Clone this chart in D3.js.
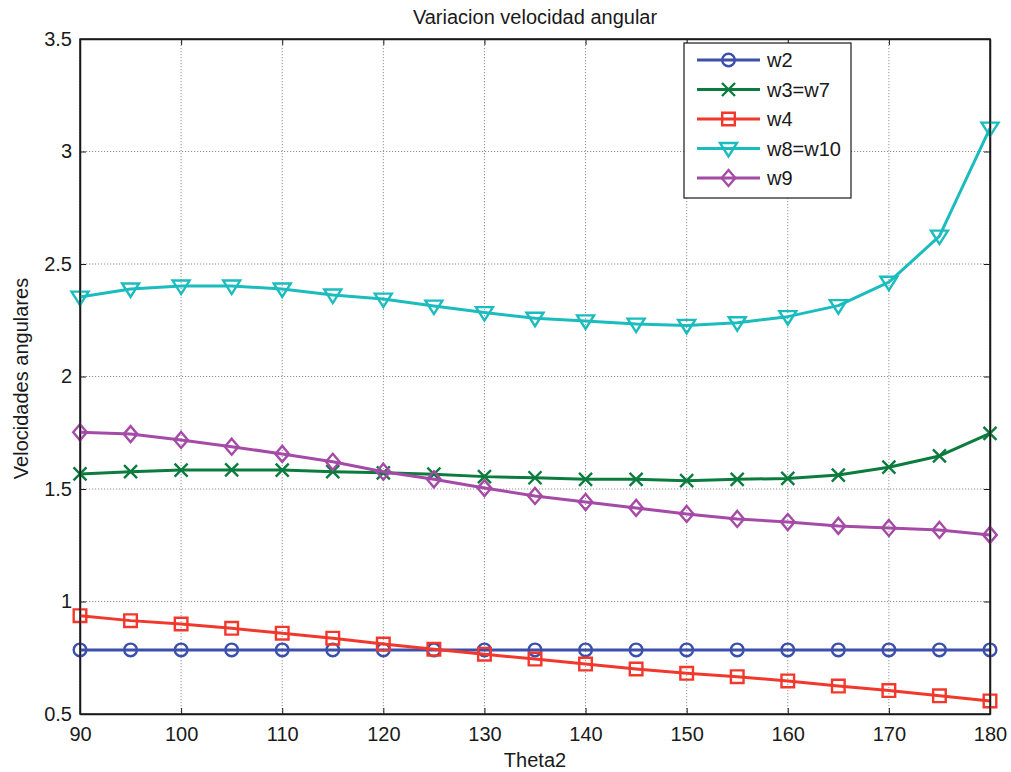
<!DOCTYPE html>
<html>
<head>
<meta charset="utf-8">
<script src="https://cdn.jsdelivr.net/npm/d3@7"></script>
<style>
  html, body { margin: 0; padding: 0; background: #fff; }
  svg { display: block; }
  text { font-family: Arial, "Liberation Sans", sans-serif; fill: #1a1a1a; }
</style>
</head>
<body>
<svg id="chart" width="1011" height="772"></svg>
<script>
// ---- data ----
const theta = [90, 95, 100, 105, 110, 115, 120, 125, 130, 135, 140, 145, 150, 155, 160, 165, 170, 175, 180];
const w2  = [0.785, 0.785, 0.785, 0.785, 0.785, 0.785, 0.785, 0.785, 0.785, 0.785, 0.785, 0.785, 0.785, 0.785, 0.785, 0.785, 0.785, 0.785, 0.785];
const w3  = [1.567, 1.577, 1.584, 1.585, 1.584, 1.577, 1.572, 1.566, 1.555, 1.550, 1.543, 1.543, 1.537, 1.543, 1.547, 1.562, 1.597, 1.647, 1.747];
const w4  = [0.937, 0.915, 0.900, 0.881, 0.859, 0.837, 0.811, 0.788, 0.766, 0.744, 0.722, 0.700, 0.681, 0.666, 0.647, 0.624, 0.604, 0.581, 0.558];
const w8  = [2.353, 2.389, 2.402, 2.402, 2.389, 2.362, 2.344, 2.313, 2.284, 2.259, 2.247, 2.233, 2.227, 2.239, 2.266, 2.315, 2.419, 2.624, 3.104];
const w9  = [1.752, 1.744, 1.718, 1.688, 1.656, 1.621, 1.577, 1.543, 1.504, 1.469, 1.442, 1.416, 1.389, 1.367, 1.353, 1.336, 1.327, 1.318, 1.296];
const seriesNames = ["w2", "w3=w7", "w4", "w8=w10", "w9"];
const xTicks = [90, 100, 110, 120, 130, 140, 150, 160, 170, 180];
const yTicks = [0.5, 1, 1.5, 2, 2.5, 3, 3.5];
const titleText = "Variacion velocidad angular";
const xLabelText = "Theta2";
const yLabelText = "Velocidades angulares";

// ---- styles ----
const seriesData = [w2, w3, w4, w8, w9];
const colors = ["#3b4fab", "#0b7c3e", "#f2382c", "#1bbcbe", "#a54aa6"];
const markers = ["circle", "x", "square", "triangleDown", "diamond"];

const svg = d3.select("#chart");
const L = 80, R = 990, T = 39, B = 714;
const x = d3.scaleLinear().domain([90, 180]).range([L, R]);
const y = d3.scaleLinear().domain([0.5, 3.5]).range([B, T]);
const FS = 20;

// grid
const grid = svg.append("g").attr("stroke", "#858585").attr("stroke-width", 0.9).attr("stroke-dasharray", "1.2,1.8");
xTicks.forEach(t => grid.append("line").attr("x1", x(t)).attr("x2", x(t)).attr("y1", T).attr("y2", B));
yTicks.forEach(t => grid.append("line").attr("x1", L).attr("x2", R).attr("y1", y(t)).attr("y2", y(t)));

// axes (ticks inward on all four sides)
const tickLen = 6;
const fmt = d => String(d);
const axB = svg.append("g").attr("transform", `translate(0,${B})`)
  .call(d3.axisBottom(x).tickValues(xTicks).tickFormat(fmt).tickSizeInner(-tickLen).tickSizeOuter(0).tickPadding(13));
const axT = svg.append("g").attr("transform", `translate(0,${T})`)
  .call(d3.axisTop(x).tickValues(xTicks).tickFormat("").tickSizeInner(-tickLen).tickSizeOuter(0));
const axL = svg.append("g").attr("transform", `translate(${L},0)`)
  .call(d3.axisLeft(y).tickValues(yTicks).tickFormat(fmt).tickSizeInner(-tickLen).tickSizeOuter(0).tickPadding(8));
const axR = svg.append("g").attr("transform", `translate(${R},0)`)
  .call(d3.axisRight(y).tickValues(yTicks).tickFormat("").tickSizeInner(-tickLen).tickSizeOuter(0));
[axB, axT, axL, axR].forEach(a => {
  a.select(".domain").attr("stroke", "#1a1a1a").attr("stroke-width", 1.5);
  a.selectAll(".tick line").attr("stroke", "#1a1a1a").attr("stroke-width", 1);
  a.selectAll("text").attr("font-size", FS).attr("font-family", "Arial, 'Liberation Sans', sans-serif").attr("fill", "#1a1a1a");
});

// marker paths
function markerPath(type) {
  const p = d3.path();
  if (type === "circle") { p.moveTo(6.3, 0); p.arc(0, 0, 6.3, 0, 2 * Math.PI); p.closePath(); }
  else if (type === "square") { p.rect(-6.3, -6.3, 12.6, 12.6); }
  else if (type === "x") { p.moveTo(-6.5, -6.5); p.lineTo(6.5, 6.5); p.moveTo(-6.5, 6.5); p.lineTo(6.5, -6.5); }
  else if (type === "triangleDown") { p.moveTo(-8.5, -5.5); p.lineTo(8.5, -5.5); p.lineTo(0, 8); p.closePath(); }
  else if (type === "diamond") { p.moveTo(0, -8); p.lineTo(6.8, 0); p.lineTo(0, 8); p.lineTo(-6.8, 0); p.closePath(); }
  return p.toString();
}

// series
const line = d3.line().x(d => x(d[0])).y(d => y(d[1]));
const plot = svg.append("g");
seriesData.forEach((vals, i) => {
  const pts = theta.map((t, j) => [t, vals[j]]);
  plot.append("path").datum(pts).attr("d", line)
    .attr("fill", "none").attr("stroke", colors[i]).attr("stroke-width", 3).attr("stroke-linejoin", "round");
  plot.selectAll(null).data(pts).enter().append("path")
    .attr("transform", d => `translate(${x(d[0])},${y(d[1])})`)
    .attr("d", markerPath(markers[i]))
    .attr("fill", "none").attr("stroke", colors[i]).attr("stroke-width", 2.4);
});

// redraw frame on top
svg.append("rect").attr("x", L).attr("y", T).attr("width", R - L).attr("height", B - T)
  .attr("fill", "none").attr("stroke", "#1a1a1a").attr("stroke-width", 1.5);

// legend
const lg = svg.append("g");
lg.append("rect").attr("x", 684).attr("y", 43).attr("width", 167).attr("height", 155)
  .attr("fill", "#fff").attr("stroke", "#1a1a1a").attr("stroke-width", 1.2);
seriesNames.forEach((name, i) => {
  const yy = 60 + i * 29.5;
  lg.append("line").attr("x1", 697).attr("x2", 760).attr("y1", yy).attr("y2", yy)
    .attr("stroke", colors[i]).attr("stroke-width", 3);
  lg.append("path").attr("transform", `translate(728.5,${yy})`).attr("d", markerPath(markers[i]))
    .attr("fill", "none").attr("stroke", colors[i]).attr("stroke-width", 2.4);
  lg.append("text").attr("x", 767).attr("y", yy + 7).attr("font-size", FS).text(name);
});

// titles
svg.append("text").attr("x", (L + R) / 2).attr("y", 24).attr("text-anchor", "middle").attr("font-size", FS).text(titleText);
svg.append("text").attr("x", (L + R) / 2).attr("y", 767).attr("text-anchor", "middle").attr("font-size", FS).text(xLabelText);
svg.append("text").attr("transform", `translate(28,${(T + B) / 2 + 2}) rotate(-90)`).attr("text-anchor", "middle").attr("font-size", FS).text(yLabelText);
</script>
</body>
</html>
